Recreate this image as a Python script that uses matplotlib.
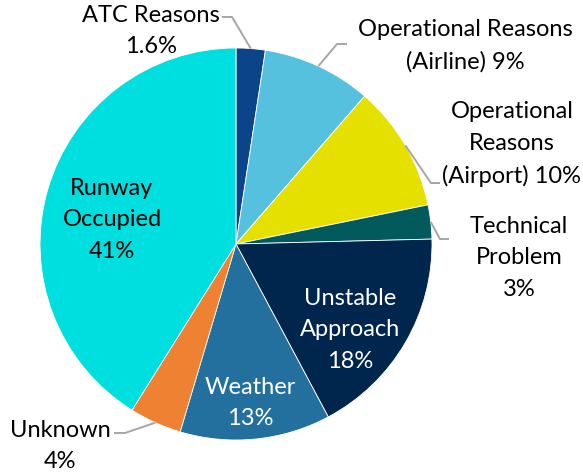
import numpy as np
import matplotlib.pyplot as plt

plt.rcParams['font.family'] = ['Lato', 'DejaVu Sans']

categories = ["ATC Reasons", "Operational Reasons (Airline)", "Operational Reasons (Airport)",
              "Technical Problem", "Unstable Approach", "Weather", "Unknown", "Runway Occupied"]
shares = [2.4, 9.0, 10.4, 2.8, 17.6, 12.4, 4.3, 41.1]
labels = ["ATC Reasons\n1.6%", "Operational Reasons\n(Airline) 9%", "Operational\nReasons\n(Airport) 10%",
          "Technical\nProblem\n3%", "Unstable\nApproach\n18%", "Weather\n13%", "Unknown\n4%",
          "Runway\nOccupied\n41%"]
colors = ["#0b4488", "#55c1de", "#e6e000", "#025a5c", "#00264e", "#23709f", "#ef8133", "#00dfe0"]

W, H = 583, 473
fig = plt.figure(figsize=(W / 100, H / 100), dpi=100)
ax = fig.add_axes([0, 0, 1, 1])

cx, cy, r = 236, H - 244, 196
wedges, _ = ax.pie(shares, colors=colors, startangle=90, counterclock=False,
                   center=(cx, cy), radius=r, frame=True,
                   wedgeprops=dict(edgecolor='white', linewidth=0.6))
ax.set_xlim(0, W)
ax.set_ylim(0, H)
ax.set_aspect('equal')
ax.axis('off')

fs = 17
# text centre (px from left, px from top), text colour, elbow point, end of horizontal; None = inside
placement = {
    0: (151, 31, 'black', (232, 17), (222, 17)),
    1: (465, 46, 'black', (337, 44), (347, 44)),
    2: (512, 144, 'black', (431, 183), (440, 183)),
    3: (519, 258, 'black', (440, 239), (449, 239)),
    4: (350, 330, 'white', None, None),
    5: (250, 403, 'white', None, None),
    6: (60, 446, 'black', (125, 433), (114, 433)),
    7: (112, 220, 'black', None, None),
}

for i, w in enumerate(wedges):
    tx, ty, tc, elbow, end = placement[i]
    ax.text(tx, H - ty, labels[i], ha='center', va='center', fontsize=fs,
            color=tc, linespacing=1.6)
    if elbow is not None:
        mid = np.deg2rad((w.theta1 + w.theta2) / 2)
        px, py = cx + r * np.cos(mid), cy + r * np.sin(mid)
        ax.plot([px, elbow[0], end[0]], [py, H - elbow[1], H - end[1]],
                color='#a6a6a6', lw=1.4, solid_capstyle='butt')

fig.savefig("out.png", dpi=100)
